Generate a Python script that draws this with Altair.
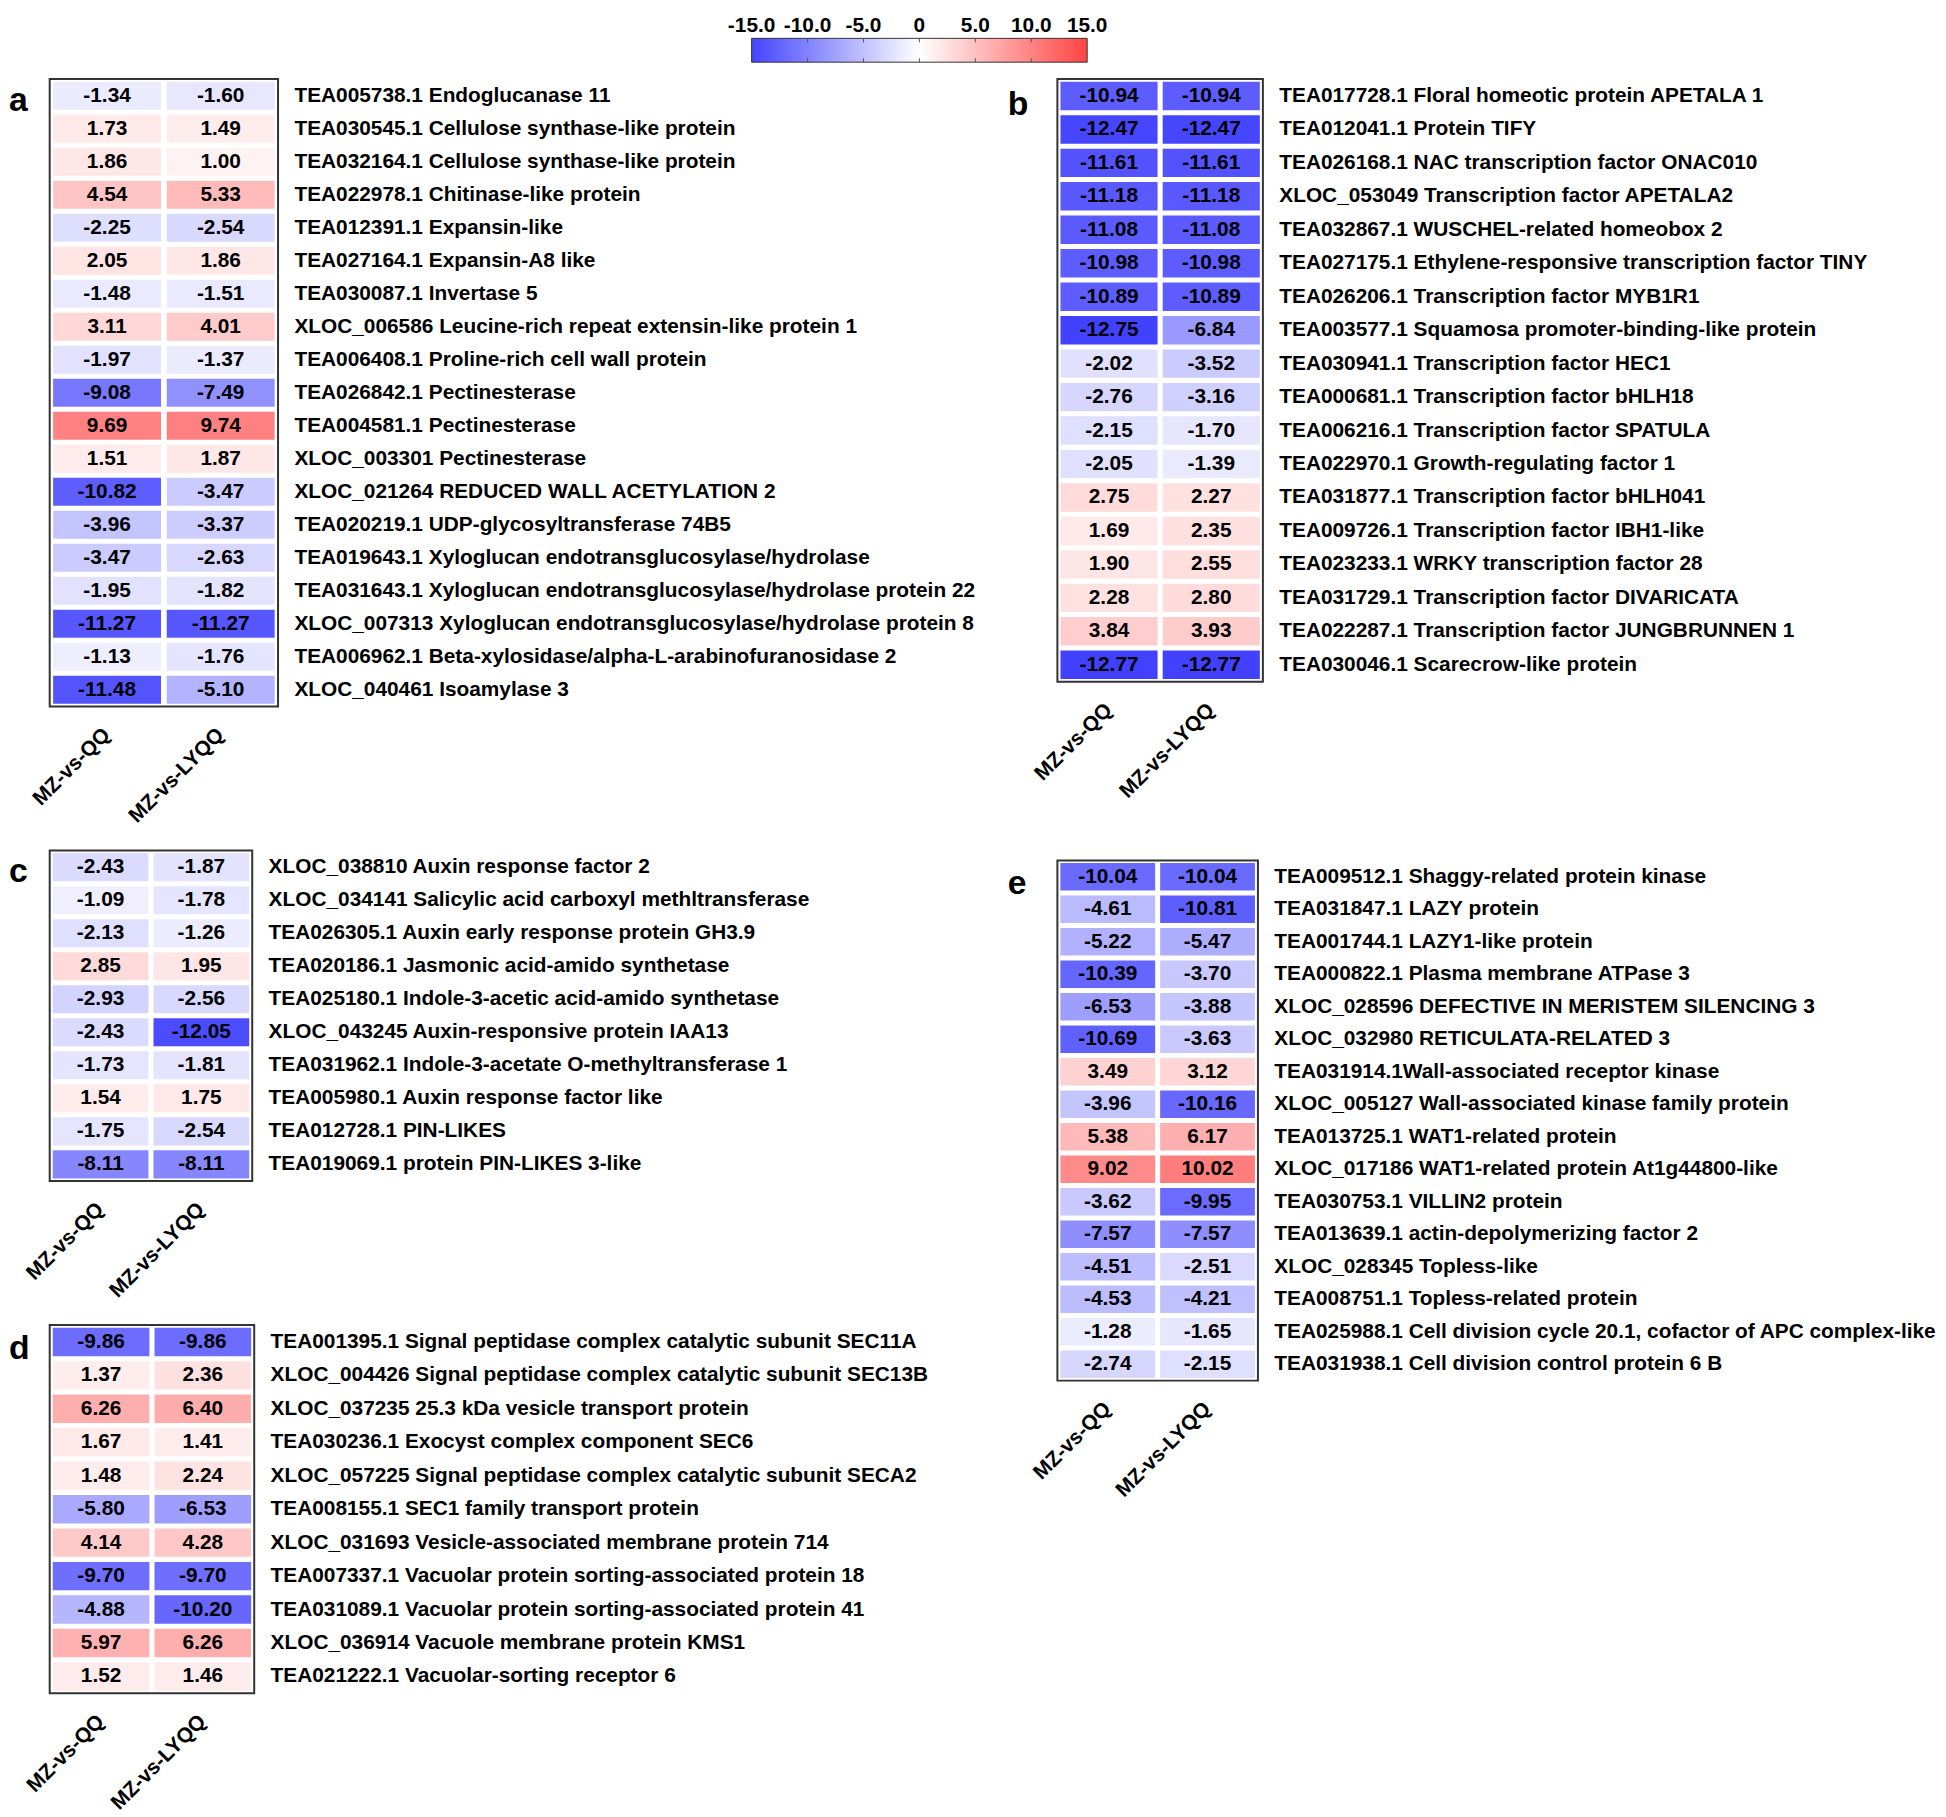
import altair as alt
import pandas as pd

FONT = "Liberation Sans"
comparisons = ["MZ-vs-QQ", "MZ-vs-LYQQ"]
panel_letters = ["a", "b", "c", "d", "e"]

# ---------------- panel a ----------------
genes_a = [
    "TEA005738.1 Endoglucanase 11",
    "TEA030545.1 Cellulose synthase-like protein",
    "TEA032164.1 Cellulose synthase-like protein",
    "TEA022978.1 Chitinase-like protein",
    "TEA012391.1 Expansin-like",
    "TEA027164.1 Expansin-A8 like",
    "TEA030087.1 Invertase 5",
    "XLOC_006586 Leucine-rich repeat extensin-like protein 1",
    "TEA006408.1 Proline-rich cell wall protein",
    "TEA026842.1 Pectinesterase",
    "TEA004581.1 Pectinesterase",
    "XLOC_003301 Pectinesterase",
    "XLOC_021264 REDUCED WALL ACETYLATION 2",
    "TEA020219.1 UDP-glycosyltransferase 74B5",
    "TEA019643.1 Xyloglucan endotransglucosylase/hydrolase",
    "TEA031643.1 Xyloglucan endotransglucosylase/hydrolase protein 22",
    "XLOC_007313 Xyloglucan endotransglucosylase/hydrolase protein 8",
    "TEA006962.1 Beta-xylosidase/alpha-L-arabinofuranosidase 2",
    "XLOC_040461 Isoamylase 3",
]
qq_a = [-1.34, 1.73, 1.86, 4.54, -2.25, 2.05, -1.48, 3.11, -1.97, -9.08, 9.69, 1.51,
        -10.82, -3.96, -3.47, -1.95, -11.27, -1.13, -11.48]
lyqq_a = [-1.60, 1.49, 1.00, 5.33, -2.54, 1.86, -1.51, 4.01, -1.37, -7.49, 9.74, 1.87,
          -3.47, -3.37, -2.63, -1.82, -11.27, -1.76, -5.10]

# ---------------- panel b ----------------
genes_b = [
    "TEA017728.1 Floral homeotic protein APETALA 1",
    "TEA012041.1 Protein TIFY",
    "TEA026168.1 NAC transcription factor ONAC010",
    "XLOC_053049 Transcription factor APETALA2",
    "TEA032867.1 WUSCHEL-related homeobox 2",
    "TEA027175.1 Ethylene-responsive transcription factor TINY",
    "TEA026206.1 Transcription factor MYB1R1",
    "TEA003577.1 Squamosa promoter-binding-like protein",
    "TEA030941.1 Transcription factor HEC1",
    "TEA000681.1 Transcription factor bHLH18",
    "TEA006216.1 Transcription factor SPATULA",
    "TEA022970.1 Growth-regulating factor 1",
    "TEA031877.1 Transcription factor bHLH041",
    "TEA009726.1 Transcription factor IBH1-like",
    "TEA023233.1 WRKY transcription factor 28",
    "TEA031729.1 Transcription factor DIVARICATA",
    "TEA022287.1 Transcription factor JUNGBRUNNEN 1",
    "TEA030046.1 Scarecrow-like protein",
]
qq_b = [-10.94, -12.47, -11.61, -11.18, -11.08, -10.98, -10.89, -12.75, -2.02, -2.76,
        -2.15, -2.05, 2.75, 1.69, 1.90, 2.28, 3.84, -12.77]
lyqq_b = [-10.94, -12.47, -11.61, -11.18, -11.08, -10.98, -10.89, -6.84, -3.52, -3.16,
          -1.70, -1.39, 2.27, 2.35, 2.55, 2.80, 3.93, -12.77]

# ---------------- panel c ----------------
genes_c = [
    "XLOC_038810 Auxin response factor 2",
    "XLOC_034141 Salicylic acid carboxyl methltransferase",
    "TEA026305.1 Auxin early response protein GH3.9",
    "TEA020186.1 Jasmonic acid-amido synthetase",
    "TEA025180.1 Indole-3-acetic acid-amido synthetase",
    "XLOC_043245 Auxin-responsive protein IAA13",
    "TEA031962.1 Indole-3-acetate O-methyltransferase 1",
    "TEA005980.1 Auxin response factor like",
    "TEA012728.1 PIN-LIKES",
    "TEA019069.1 protein PIN-LIKES 3-like",
]
qq_c = [-2.43, -1.09, -2.13, 2.85, -2.93, -2.43, -1.73, 1.54, -1.75, -8.11]
lyqq_c = [-1.87, -1.78, -1.26, 1.95, -2.56, -12.05, -1.81, 1.75, -2.54, -8.11]

# ---------------- panel d ----------------
genes_d = [
    "TEA001395.1 Signal peptidase complex catalytic subunit SEC11A",
    "XLOC_004426 Signal peptidase complex catalytic subunit SEC13B",
    "XLOC_037235 25.3 kDa vesicle transport protein",
    "TEA030236.1 Exocyst complex component SEC6",
    "XLOC_057225 Signal peptidase complex catalytic subunit SECA2",
    "TEA008155.1 SEC1 family transport protein",
    "XLOC_031693 Vesicle-associated membrane protein 714",
    "TEA007337.1 Vacuolar protein sorting-associated protein 18",
    "TEA031089.1 Vacuolar protein sorting-associated protein 41",
    "XLOC_036914 Vacuole membrane protein KMS1",
    "TEA021222.1 Vacuolar-sorting receptor 6",
]
qq_d = [-9.86, 1.37, 6.26, 1.67, 1.48, -5.80, 4.14, -9.70, -4.88, 5.97, 1.52]
lyqq_d = [-9.86, 2.36, 6.40, 1.41, 2.24, -6.53, 4.28, -9.70, -10.20, 6.26, 1.46]

# ---------------- panel e ----------------
genes_e = [
    "TEA009512.1 Shaggy-related protein kinase",
    "TEA031847.1 LAZY protein",
    "TEA001744.1 LAZY1-like protein",
    "TEA000822.1 Plasma membrane ATPase 3",
    "XLOC_028596 DEFECTIVE IN MERISTEM SILENCING 3",
    "XLOC_032980 RETICULATA-RELATED 3",
    "TEA031914.1Wall-associated receptor kinase",
    "XLOC_005127 Wall-associated kinase family protein",
    "TEA013725.1 WAT1-related protein",
    "XLOC_017186 WAT1-related protein At1g44800-like",
    "TEA030753.1 VILLIN2 protein",
    "TEA013639.1 actin-depolymerizing factor 2",
    "XLOC_028345 Topless-like",
    "TEA008751.1 Topless-related protein",
    "TEA025988.1 Cell division cycle 20.1, cofactor of APC complex-like",
    "TEA031938.1 Cell division control protein 6 B",
]
qq_e = [-10.04, -4.61, -5.22, -10.39, -6.53, -10.69, 3.49, -3.96, 5.38, 9.02, -3.62,
        -7.57, -4.51, -4.53, -1.28, -2.74]
lyqq_e = [-10.04, -10.81, -5.47, -3.70, -3.88, -3.63, 3.12, -10.16, 6.17, 10.02, -9.95,
          -7.57, -2.51, -4.21, -1.65, -2.15]

# ---------------- colour scale / colour bar ----------------
color_domain = [-15, 0, 15]
color_range = ["#2020ff", "#ffffff", "#ff3c3c"]
bar_ticks = [-15, -10, -5, 0, 5, 10, 15]
bar_labels = ["-15.0", "-10.0", "-5.0", "0", "5.0", "10.0", "15.0"]
bar_stop_colors = ["#4444ff", "#ffffff", "#ff4444"]
bar_stop_offsets = [0, 0.5, 1]

color_scale = alt.Scale(domain=color_domain, range=color_range, interpolate="rgb")


def make_df(genes, qq, lyqq):
    rows = []
    for g, v1, v2 in zip(genes, qq, lyqq):
        rows.append({"gene": g, "cmp": comparisons[0], "v": v1})
        rows.append({"gene": g, "cmp": comparisons[1], "v": v2})
    df = pd.DataFrame(rows)
    df["label"] = df["v"].map(lambda x: f"{x:.2f}")
    return df


def panel(letter, genes, qq, lyqq, width, height, letter_dx, letter_dy):
    df = make_df(genes, qq, lyqq)
    base = alt.Chart(df).encode(
        x=alt.X(
            "cmp:N", sort=comparisons,
            scale=alt.Scale(paddingInner=0.05, paddingOuter=0.03),
            axis=alt.Axis(title=None, orient="bottom", labelAngle=-45, labelAlign="right",
                          labelBaseline="middle", domain=False, ticks=False, tickSize=0,
                          labelPadding=25, labelFontSize=21, labelFontWeight="bold",
                          labelFont=FONT, labelColor="black"),
        ),
        y=alt.Y(
            "gene:N", sort=genes,
            scale=alt.Scale(paddingInner=0.15, paddingOuter=0.08),
            axis=alt.Axis(title=None, orient="right", domain=False, ticks=False, tickSize=0,
                          labelPadding=16, labelFontSize=21, labelFontWeight="bold",
                          labelFont=FONT, labelColor="black", labelLimit=2000),
        ),
    )
    rects = base.mark_rect().encode(color=alt.Color("v:Q", scale=color_scale, legend=None))
    texts = base.mark_text(font=FONT, fontSize=21, fontWeight="bold", color="black").encode(
        text="label:N")
    let = alt.Chart(pd.DataFrame({"t": [letter]})).mark_text(
        align="left", baseline="alphabetic", font=FONT, fontSize=34, fontWeight="bold",
        color="black").encode(text="t:N", x=alt.value(-letter_dx), y=alt.value(letter_dy))
    return alt.layer(rects, texts, let).properties(
        width=width, height=height,
        view=alt.ViewBackground(stroke="#333333", strokeWidth=2))


pa = panel(panel_letters[0], genes_a, qq_a, lyqq_a, 230, 632, 41, 32)
pb = panel(panel_letters[1], genes_b, qq_b, lyqq_b, 207, 607, 50, 36)
pc = panel(panel_letters[2], genes_c, qq_c, lyqq_c, 204, 333, 41, 32)
pd_ = panel(panel_letters[3], genes_d, qq_d, lyqq_d, 206, 371, 41, 34)
pe = panel(panel_letters[4], genes_e, qq_e, lyqq_e, 202, 524, 50, 34)

# colour bar (labels drawn inside the chart area so nothing sticks out above it)
cb_df = pd.DataFrame({"lo": [bar_ticks[0]], "hi": [bar_ticks[-1]]})
xscale = alt.Scale(domain=[bar_ticks[0], bar_ticks[-1]], range=[707, 1045], nice=False, zero=False)
grad = alt.LinearGradient(
    gradient="linear",
    stops=[alt.GradientStop(offset=o, color=c) for o, c in zip(bar_stop_offsets, bar_stop_colors)],
    x1=0, x2=1, y1=0, y2=0)
bar = alt.Chart(cb_df).mark_rect(color=grad, stroke="#333333", strokeWidth=1).encode(
    x=alt.X("lo:Q", scale=xscale, axis=None),
    x2="hi:Q", y=alt.value(23), y2=alt.value(47))
lab_df = pd.DataFrame({"t": bar_ticks, "lab": bar_labels})
bar_text = alt.Chart(lab_df).mark_text(
    font=FONT, fontSize=21, fontWeight="bold", color="black", baseline="top",
    align="center").encode(x=alt.X("t:Q", scale=xscale, axis=None), y=alt.value(0),
                           text="lab:N")
tick_df = pd.DataFrame({"t": bar_ticks[1:-1]})
ticks_top = alt.Chart(tick_df).mark_rule(color="#555555", strokeWidth=1).encode(
    x=alt.X("t:Q", scale=xscale, axis=None), y=alt.value(23), y2=alt.value(27))
ticks_bot = alt.Chart(tick_df).mark_rule(color="#555555", strokeWidth=1).encode(
    x=alt.X("t:Q", scale=xscale, axis=None), y=alt.value(43), y2=alt.value(47))
colorbar = alt.layer(bar, ticks_top, ticks_bot, bar_text).properties(
    width=1045, height=47, view=alt.ViewBackground(stroke="transparent"))

left = alt.vconcat(pa, pc, pd_, spacing=22)
right = alt.vconcat(pb, pe, spacing=57)
main = alt.hconcat(left, right, spacing=30)

chart = alt.vconcat(colorbar, main, spacing=15).properties(padding=0).configure(font=FONT)

chart.save("out.html", embed_options={"renderer": "svg", "actions": False})
